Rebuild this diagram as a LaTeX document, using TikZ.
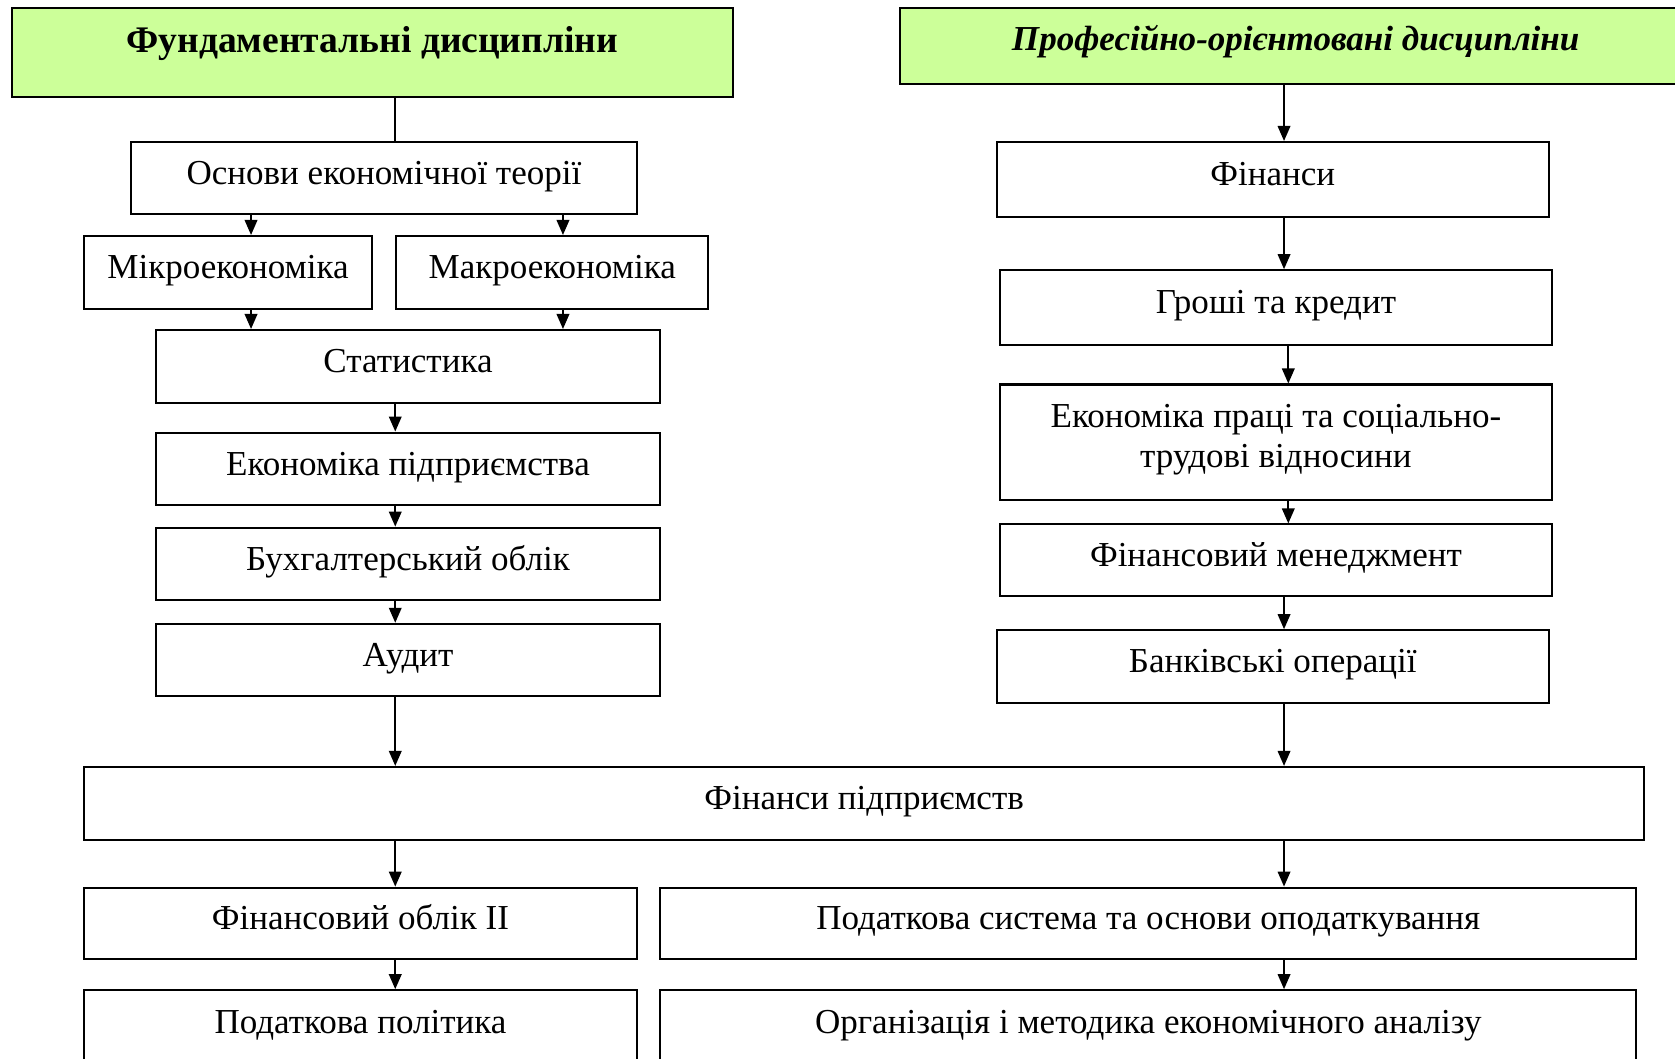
\documentclass[tikz,border=0pt]{standalone}
\usepackage{fontspec}
\setmainfont{Liberation Serif}
\usetikzlibrary{arrows.meta}
\definecolor{headgreen}{RGB}{204,255,153}
\newcommand{\pu}{0.015cm}
\tikzstyle{subj} = [draw, line width=0.8pt, anchor=north west, inner sep=0pt, align=center, text height=0.33cm, text depth=0.15cm, font=\fontsize{14}{16.2}\selectfont]
\tikzstyle{head} = [subj, fill=headgreen, font=\fontsize{15}{17}\selectfont\bfseries]
\tikzstyle{arr} = [line width=0.8pt, -{Triangle[length=6pt,width=5pt]}]

\begin{document}
\begin{tikzpicture}[x=0.015cm, y=-0.015cm]
\useasboundingbox (0,0) rectangle (1568,991);
\clip (0,0) rectangle (1568,991);
\coordinate (mcol) at (235,0);
\coordinate (kcol) at (527,0);
\coordinate (lcol) at (370,0);
\coordinate (rcol) at (1202,0);
\coordinate (rcolb) at (1206,0);

\node[head, minimum width=675*\pu, minimum height=83*\pu, text depth=0.33cm] (fund) at (10,7) {Фундаментальні дисципліни};
\node[head, minimum width=740*\pu, minimum height=71*\pu, text depth=0.22cm, font=\fontsize{14}{16.2}\selectfont\bfseries\itshape] (prof) at (842,7) {Професійно-орієнтовані дисципліни};

\node[subj, minimum width=473*\pu, minimum height=67*\pu] (osnovy) at (122,132) {Основи економічної теорії};
\node[subj, minimum width=269*\pu, minimum height=68*\pu] (mikro) at (78,220) {Мікроекономіка};
\node[subj, minimum width=292*\pu, minimum height=68*\pu] (makro) at (370,220) {Макроекономіка};
\node[subj, minimum width=472*\pu, minimum height=68*\pu] (stat) at (145,308) {Статистика};
\node[subj, minimum width=472*\pu, minimum height=68*\pu] (ekpid) at (145,404) {Економіка підприємства};
\node[subj, minimum width=472*\pu, minimum height=68*\pu] (bukh) at (145,493) {Бухгалтерський облік};
\node[subj, minimum width=472*\pu, minimum height=68*\pu] (audit) at (145,583) {Аудит};

\node[subj, minimum width=517*\pu, minimum height=70*\pu] (finansy) at (932,132) {Фінанси};
\node[subj, minimum width=517*\pu, minimum height=70*\pu] (groshi) at (935,252) {Гроші та кредит};
\node[subj, minimum width=517*\pu, minimum height=108*\pu, text height=0.9cm, text depth=0.18cm] (ekprac) at (935,359) {Економіка праці та соціально-\\трудові відносини};
\node[subj, minimum width=517*\pu, minimum height=67*\pu] (finmen) at (935,490) {Фінансовий менеджмент};
\node[subj, minimum width=517*\pu, minimum height=68*\pu] (bank) at (932,589) {Банківські операції};

\node[subj, minimum width=1460*\pu, minimum height=68*\pu] (finpid) at (78,717) {Фінанси підприємств};
\node[subj, minimum width=517*\pu, minimum height=67*\pu] (finobl) at (78,830) {Фінансовий облік ІІ};
\node[subj, minimum width=914*\pu, minimum height=67*\pu] (podsys) at (617,830) {Податкова система та основи оподаткування};
\node[subj, minimum width=517*\pu, minimum height=70*\pu] (podpol) at (78,926) {Податкова політика};
\node[subj, minimum width=914*\pu, minimum height=70*\pu] (org) at (617,926) {Організація і методика економічного аналізу};

\draw[line width=0.8pt] (fund.south -| lcol) -- (osnovy.north -| lcol);
\draw[arr] (osnovy.south -| mcol) -- (mikro.north -| mcol);
\draw[arr] (osnovy.south -| kcol) -- (makro.north -| kcol);
\draw[arr] (mikro.south -| mcol) -- (stat.north -| mcol);
\draw[arr] (makro.south -| kcol) -- (stat.north -| kcol);
\draw[arr] (stat.south -| lcol) -- (ekpid.north -| lcol);
\draw[arr] (ekpid.south -| lcol) -- (bukh.north -| lcol);
\draw[arr] (bukh.south -| lcol) -- (audit.north -| lcol);
\draw[arr] (audit.south -| lcol) -- (finpid.north -| lcol);

\draw[arr] (prof.south -| rcol) -- (finansy.north -| rcol);
\draw[arr] (finansy.south -| rcol) -- (groshi.north -| rcol);
\draw[arr] (groshi.south -| rcolb) -- (ekprac.north -| rcolb);
\draw[arr] (ekprac.south -| rcolb) -- (finmen.north -| rcolb);
\draw[arr] (finmen.south -| rcol) -- (bank.north -| rcol);
\draw[arr] (bank.south -| rcol) -- (finpid.north -| rcol);

\draw[arr] (finpid.south -| lcol) -- (finobl.north -| lcol);
\draw[arr] (finpid.south -| rcol) -- (podsys.north -| rcol);
\draw[arr] (finobl.south -| lcol) -- (podpol.north -| lcol);
\draw[arr] (podsys.south -| rcol) -- (org.north -| rcol);
\end{tikzpicture}
\end{document}
